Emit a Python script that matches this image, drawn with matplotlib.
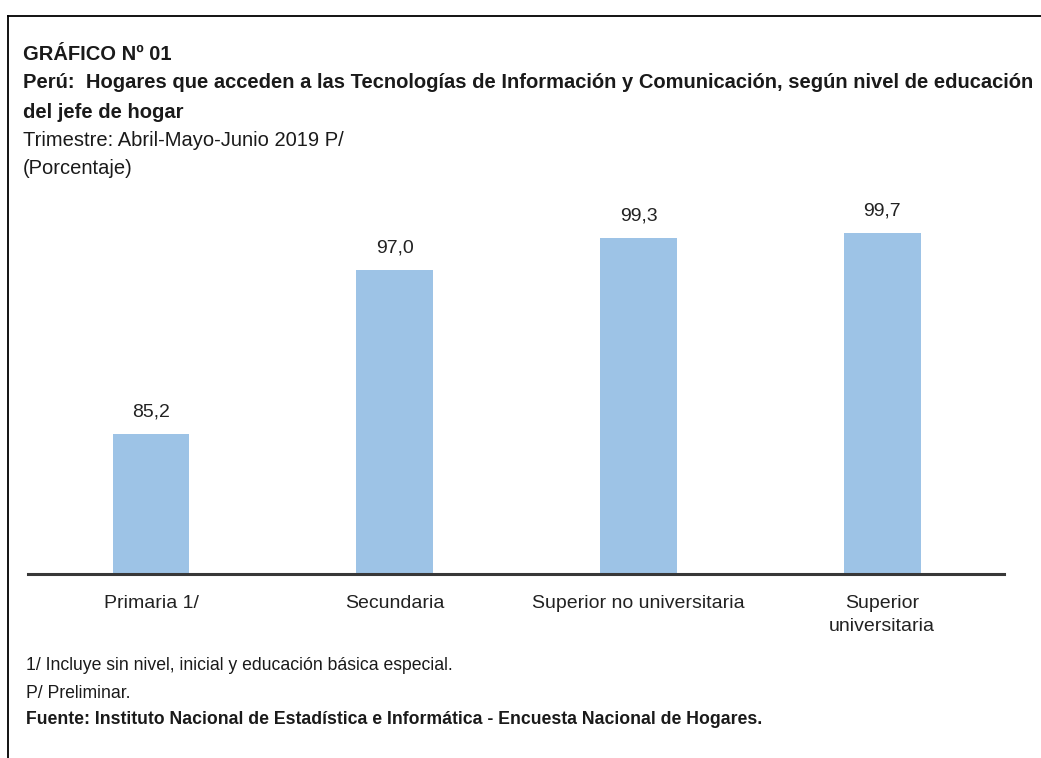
import matplotlib
matplotlib.use("Agg")
from matplotlib import pyplot as plt
from matplotlib.lines import Line2D

categories = ["Primaria 1/", "Secundaria", "Superior no universitaria", "Superior\nuniversitaria"]
values = [85.2, 97.0, 99.3, 99.7]
value_labels = ["85,2", "97,0", "99,3", "99,7"]

plt.rcParams['font.family'] = ['Liberation Sans', 'DejaVu Sans']

W, H = 1041, 758
fig = plt.figure(figsize=(W / 100, H / 100), dpi=100)
ax = fig.add_axes([28 / W, 1 - 574 / H, 976 / W, 373 / H])

x = list(range(len(categories)))
ax.bar(x, values, width=0.315, color="#9DC3E6")
for xi, v, lab in zip(x, values, value_labels):
    ax.annotate(lab, (xi, v), xytext=(0, 10), textcoords="offset points",
                ha="center", va="bottom", fontsize=14, color="#222222")

ax.set_xlim(-0.505, 3.5)
ax.set_ylim(75.1, 102)
ax.set_xticks(x)
ax.set_xticklabels(categories, fontsize=14, color="#222222", linespacing=1.45)
ax.tick_params(axis="x", length=0, pad=15)
ax.set_yticks([])
for s in ["top", "right", "left"]:
    ax.spines[s].set_visible(False)
ax.spines["bottom"].set_linewidth(2.2)
ax.spines["bottom"].set_color("#383838")

# frame lines on top and left
fig.add_artist(Line2D([8 / W, 1], [1 - 16 / H, 1 - 16 / H], color="black", lw=1.3))
fig.add_artist(Line2D([8 / W, 8 / W], [0, 1 - 16 / H], color="black", lw=1.3))

def ftxt(px, py, s, size, bold=False):
    fig.text(px / W, 1 - py / H, s, fontsize=size, fontweight="bold" if bold else "normal",
             color="#1a1a1a", ha="left", va="center")

ftxt(23, 54, "GRÁFICO Nº 01", 14.5, True)
ftxt(23, 83, "Perú:  Hogares que acceden a las Tecnologías de Información y Comunicación, según nivel de educación", 14.5, True)
ftxt(23, 112, "del jefe de hogar", 14.5, True)
ftxt(23, 140, "Trimestre: Abril-Mayo-Junio 2019 P/", 14.5)
ftxt(23, 169, "(Porcentaje)", 14.5)

ftxt(26, 666, "1/ Incluye sin nivel, inicial y educación básica especial.", 12.7)
ftxt(26, 693, "P/ Preliminar.", 12.7)
ftxt(26, 719, "Fuente: Instituto Nacional de Estadística e Informática - Encuesta Nacional de Hogares.", 12.7, True)

fig.savefig("out.png", dpi=100)
